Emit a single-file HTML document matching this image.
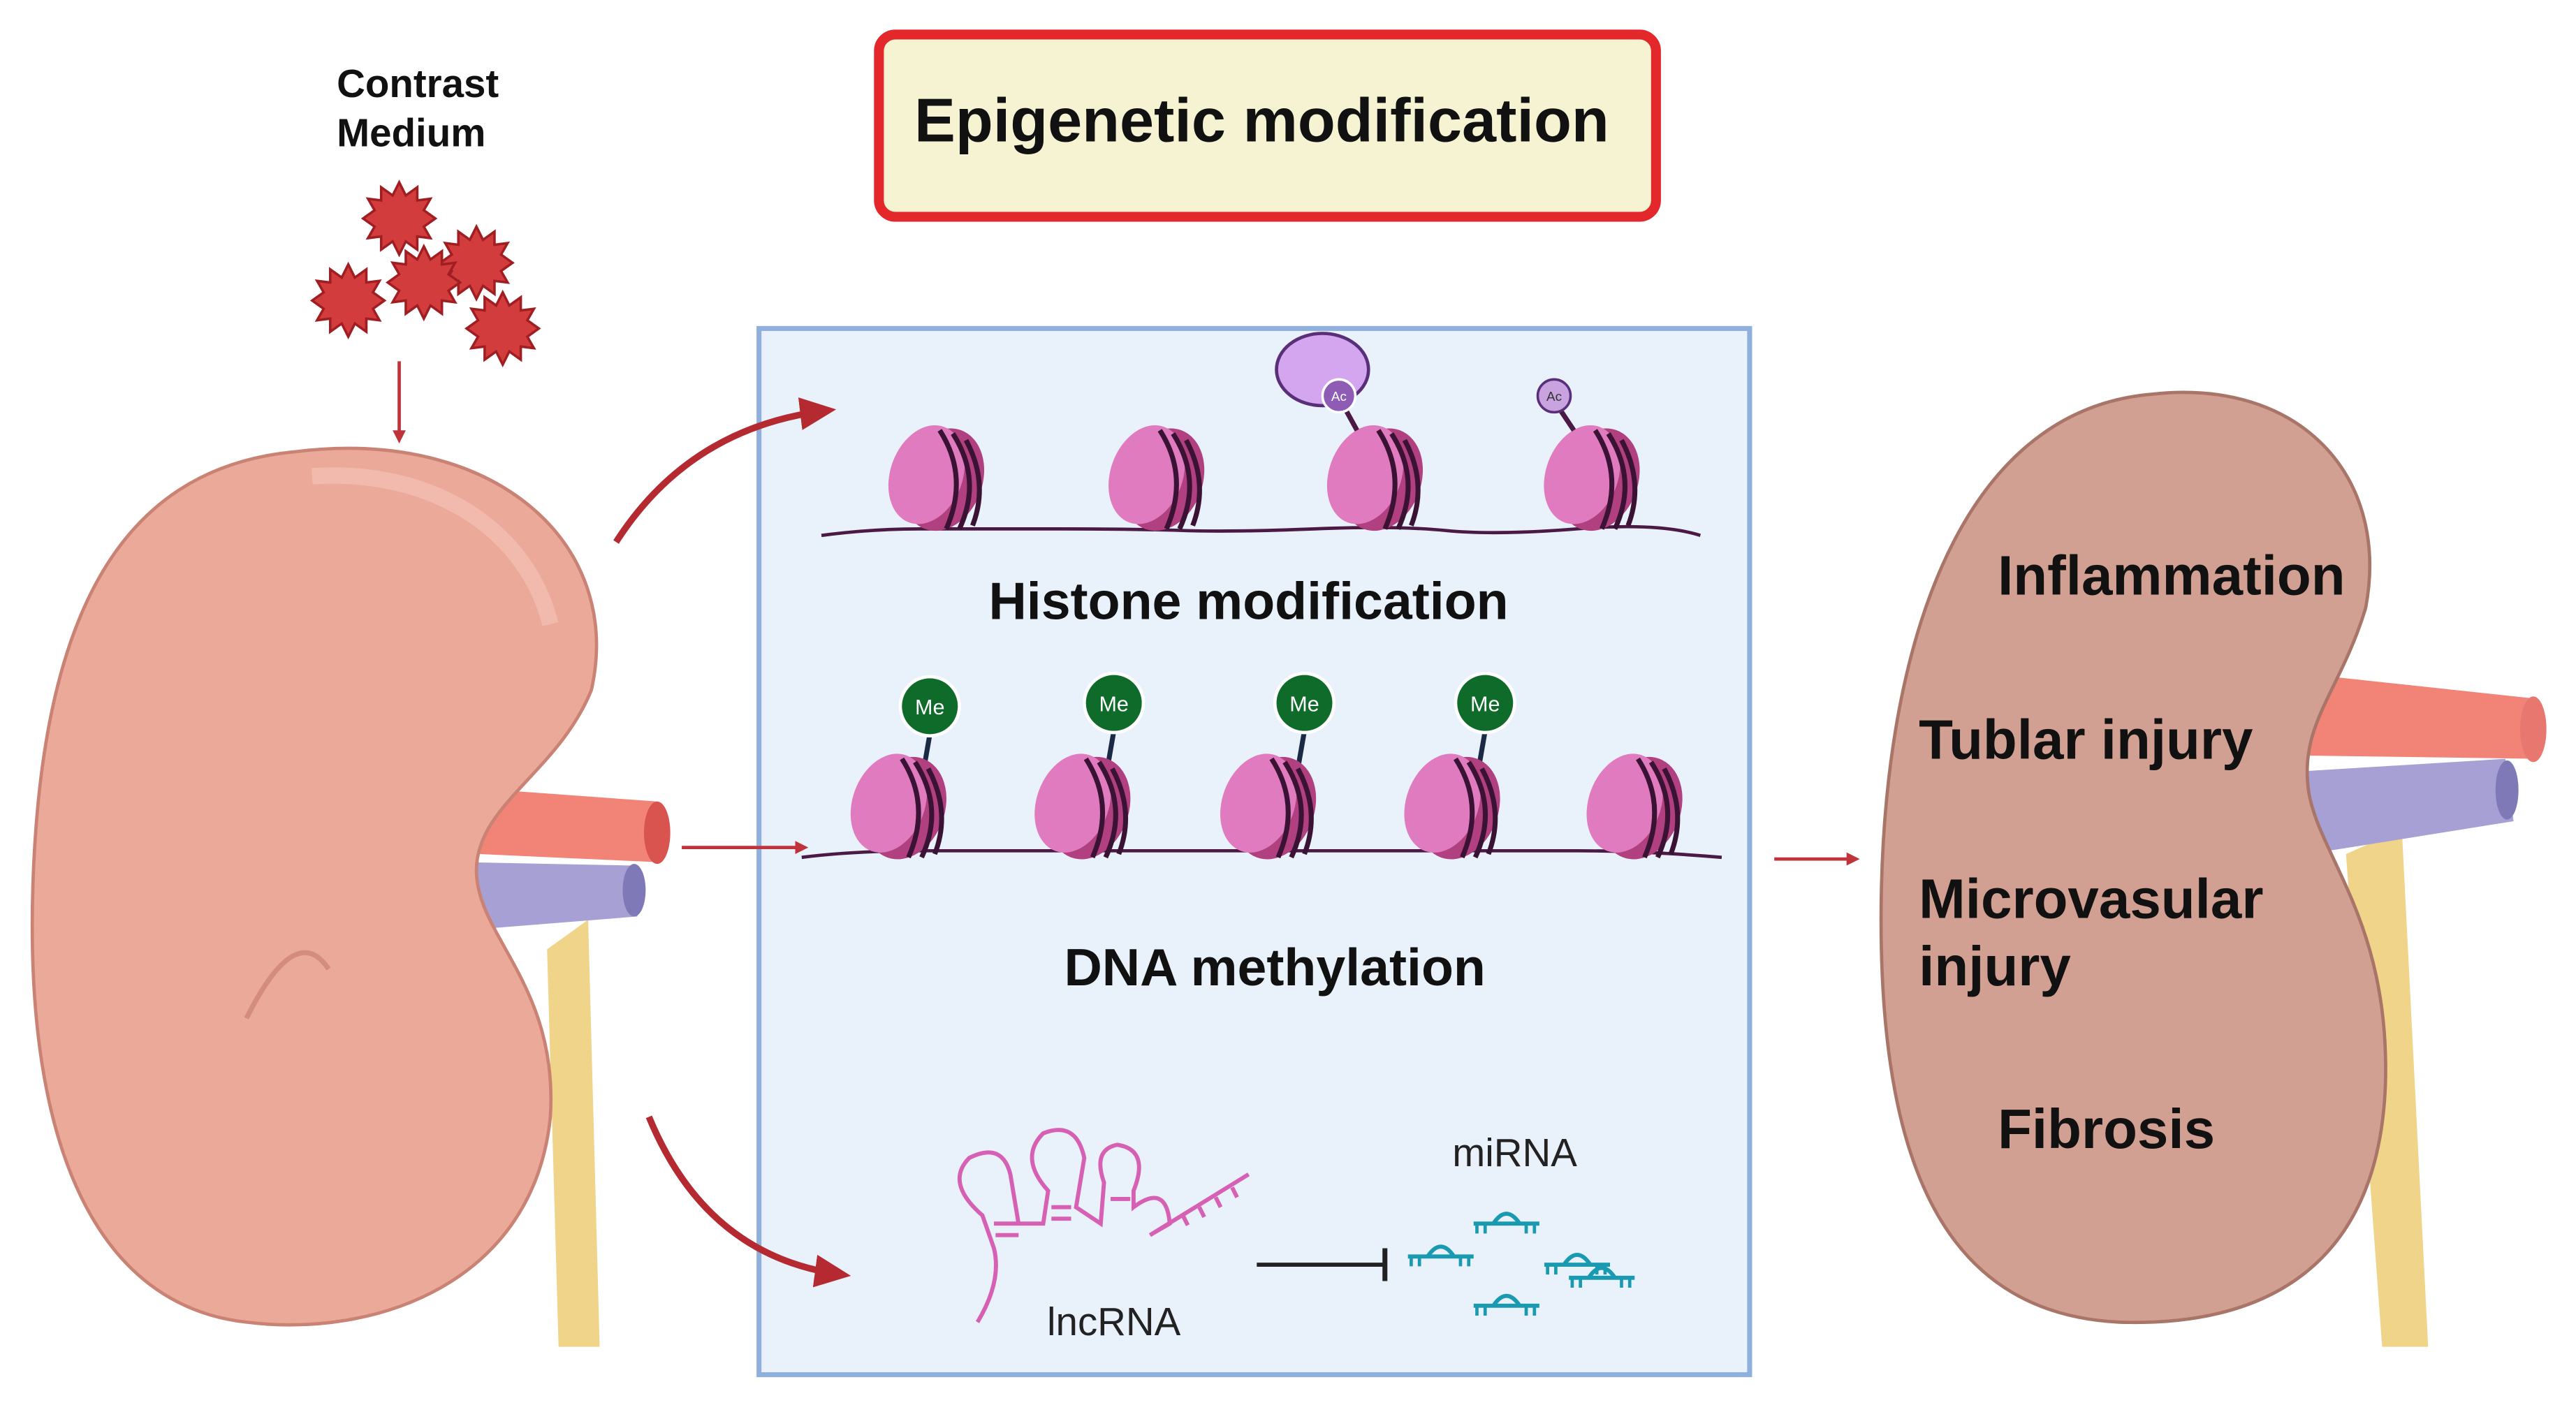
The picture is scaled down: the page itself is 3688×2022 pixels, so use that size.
<!DOCTYPE html>
<html><head><meta charset="utf-8"><style>
html,body{margin:0;padding:0;background:#fff;}
svg{display:block;}
text{font-family:"Liberation Sans",sans-serif;}
</style></head><body>
<svg width="3688" height="2022" viewBox="0 0 1568 859.7" preserveAspectRatio="none" xmlns="http://www.w3.org/2000/svg">
<defs>
<marker id="ah" markerWidth="8" markerHeight="8" refX="6" refY="4" orient="auto" markerUnits="userSpaceOnUse"><path d="M0,0 L8,4 L0,8 Z" fill="#c0333a"/></marker>
<marker id="ahb" markerWidth="22" markerHeight="20" refX="16" refY="10" orient="auto" markerUnits="userSpaceOnUse"><path d="M0,0 L22,10 L0,20 Z" fill="#b52a30"/></marker>
<g id="nuc">
<ellipse cx="6" cy="0" rx="24" ry="32" fill="#b0407f" transform="rotate(20 6 0)"/>
<ellipse cx="-4" cy="-3" rx="22" ry="31" fill="#e07bbf" transform="rotate(20 -4 -3)"/>
<path d="M4,-30 Q22,-2 8,30 M12,-28 Q30,0 16,30 M20,-24 Q34,2 24,28" stroke="#3a1234" stroke-width="3" fill="none"/>
</g>
<g id="mir">
<path d="M0,0 H40" stroke="#1a9ab0" stroke-width="2.5"/>
<path d="M12,0 Q20,-12 28,0" stroke="#1a9ab0" stroke-width="2.5" fill="none"/>
<path d="M2,0v6M7,0v6M32,0v6M37,0v6" stroke="#1a9ab0" stroke-width="2"/>
</g>
<g id="star">
<polygon points="0,-22 4,-14 11,-19 11,-11 19,-12 15,-5 22,0 15,5 19,12 11,11 11,19 4,14 0,22 -4,14 -11,19 -11,11 -19,12 -15,5 -22,0 -15,-5 -19,-12 -11,-11 -11,-19 -4,-14" fill="#d23c3c" stroke="#a01e22" stroke-width="1.5"/>
</g>
</defs>

<!-- title -->
<rect x="535" y="21" width="473" height="111" rx="10" fill="#f6f3d2" stroke="#e3272b" stroke-width="6"/>
<text x="768" y="86" font-size="37.5" font-weight="bold" text-anchor="middle" fill="#111">Epigenetic modification</text>

<!-- contrast medium -->
<text x="205" y="59" font-size="24" font-weight="bold" fill="#111">Contrast</text>
<text x="205" y="89" font-size="24" font-weight="bold" fill="#111">Medium</text>
<use href="#star" x="243" y="133"/>
<use href="#star" x="290" y="160"/>
<use href="#star" x="258" y="172"/>
<use href="#star" x="212" y="183"/>
<use href="#star" x="306" y="200"/>
<line x1="243" y1="220" x2="243" y2="268" stroke="#c0333a" stroke-width="2" marker-end="url(#ah)"/>

<!-- center box -->
<rect x="462" y="200" width="603" height="637" fill="#e9f1fb" stroke="#8fb0dc" stroke-width="3"/>

<!-- left kidney -->
<path d="M333,578 L340,820 L365,820 L358,560 Z" fill="#f0d48a"/>
<path d="M290,480 L400,488 L402,525 L292,520 Z" fill="#f28477"/>
<ellipse cx="400" cy="507" rx="8" ry="19" fill="#d9534f"/>
<path d="M285,525 L385,527 L388,558 L288,566 Z" fill="#a7a0d4"/>
<ellipse cx="386" cy="542" rx="7" ry="16" fill="#8079b8"/>
<path d="M180,275 C300,260 380,330 360,420 C340,470 290,490 290,530 C290,570 340,600 335,680 C325,780 230,815 150,805 C60,795 15,700 20,540 C25,380 70,285 180,275 Z" fill="#eaa999" stroke="#c98274" stroke-width="2"/>
<path d="M190,290 C260,285 320,320 335,380" stroke="#f4c2b5" stroke-width="10" fill="none" opacity="0.7"/>
<path d="M150,620 Q180,560 200,590" stroke="#d38c7e" stroke-width="3" fill="none"/>

<!-- arrows from kidney -->
<path d="M375,330 Q420,260 503,250" stroke="#b52a30" stroke-width="4" fill="none" marker-end="url(#ahb)"/>
<line x1="415" y1="516" x2="490" y2="516" stroke="#c0333a" stroke-width="2" marker-end="url(#ah)"/>
<path d="M395,680 Q430,765 512,776" stroke="#b52a30" stroke-width="4" fill="none" marker-end="url(#ahb)"/>
<line x1="1080" y1="523" x2="1130" y2="523" stroke="#c0333a" stroke-width="2" marker-end="url(#ah)"/>

<!-- histone row -->
<path d="M500,326 Q530,322 560,322 T640,322 T720,323 T800,322 T880,323 T960,322 T1035,326" stroke="#4a1a44" stroke-width="2" fill="none"/>
<use href="#nuc" x="568" y="292"/>
<use href="#nuc" x="702" y="292"/>
<use href="#nuc" x="835" y="292"/>
<use href="#nuc" x="967" y="292"/>
<line x1="815" y1="242" x2="826" y2="262" stroke="#4a1a44" stroke-width="3"/>
<ellipse cx="805" cy="225" rx="28" ry="22" fill="#d4a6ef" stroke="#5a2f7a" stroke-width="2"/>
<circle cx="815" cy="241" r="10" fill="#8e5bb5" stroke="#fff" stroke-width="1.5"/>
<text x="815" y="244" font-size="8" fill="#fff" text-anchor="middle">Ac</text>
<line x1="950" y1="250" x2="958" y2="262" stroke="#4a1a44" stroke-width="3"/>
<circle cx="946" cy="241" r="10" fill="#c9a3e0" stroke="#5a2f7a" stroke-width="1.5"/>
<text x="946" y="244" font-size="8" fill="#333" text-anchor="middle">Ac</text>
<text x="760" y="377" font-size="32" font-weight="bold" text-anchor="middle" fill="#111">Histone modification</text>

<!-- DNA row -->
<path d="M488,522 Q520,518 560,518 T640,518 T720,518 T800,518 T880,518 T960,518 T1048,522" stroke="#4a1a44" stroke-width="2" fill="none"/>
<g>
<line x1="566" y1="447" x2="562" y2="470" stroke="#1a2a44" stroke-width="3"/>
<line x1="678" y1="445" x2="674" y2="468" stroke="#1a2a44" stroke-width="3"/>
<line x1="794" y1="445" x2="790" y2="468" stroke="#1a2a44" stroke-width="3"/>
<line x1="904" y1="445" x2="900" y2="468" stroke="#1a2a44" stroke-width="3"/>
</g>
<use href="#nuc" x="545" y="492"/>
<use href="#nuc" x="657" y="492"/>
<use href="#nuc" x="770" y="492"/>
<use href="#nuc" x="882" y="492"/>
<use href="#nuc" x="993" y="492"/>
<g font-size="13" fill="#fff" text-anchor="middle">
<circle cx="566" cy="430" r="18" fill="#0f6b2a" stroke="#fff" stroke-width="2"/><text x="566" y="435">Me</text>
<circle cx="678" cy="428" r="18" fill="#0f6b2a" stroke="#fff" stroke-width="2"/><text x="678" y="433">Me</text>
<circle cx="794" cy="428" r="18" fill="#0f6b2a" stroke="#fff" stroke-width="2"/><text x="794" y="433">Me</text>
<circle cx="904" cy="428" r="18" fill="#0f6b2a" stroke="#fff" stroke-width="2"/><text x="904" y="433">Me</text>
</g>
<text x="776" y="600" font-size="32" font-weight="bold" text-anchor="middle" fill="#111">DNA methylation</text>

<!-- lncRNA -->
<g stroke="#d660b4" stroke-width="2.5" fill="none">
<path d="M595,805 Q610,780 605,760 L598,740 Q575,720 590,705 Q610,695 615,715 L620,745 L635,745 L638,725 Q620,705 635,690 Q655,682 660,705 L655,735 L670,745 L672,720 Q665,700 680,697 Q700,700 690,725 L690,735 Q710,720 712,745 L700,752 L760,715"/>
<path d="M605,745 h14 M606,752 h14 M640,735 h12 M640,742 h12 M676,730 h12 M720,740 l3,6 M730,735 l3,6 M740,729 l3,6 M750,723 l3,6"/>
</g>
<text x="678" y="813" font-size="24" text-anchor="middle" fill="#222">lncRNA</text>
<line x1="765" y1="770" x2="842" y2="770" stroke="#222" stroke-width="2.5"/>
<line x1="843" y1="760" x2="843" y2="780" stroke="#222" stroke-width="3"/>
<text x="922" y="710" font-size="24" text-anchor="middle" fill="#222">miRNA</text>
<use href="#mir" x="897" y="745"/>
<use href="#mir" x="857" y="765"/>
<use href="#mir" x="940" y="770"/>
<use href="#mir" x="897" y="795"/>
<use href="#mir" x="955" y="778"/>

<!-- right kidney -->
<path d="M1428,520 L1450,820 L1478,820 L1462,505 Z" fill="#f0d48a"/>
<path d="M1400,410 L1540,425 L1545,462 L1400,460 Z" fill="#f28477"/>
<ellipse cx="1542" cy="444" rx="8" ry="20" fill="#e7776f"/>
<path d="M1395,470 L1525,462 L1530,500 L1405,520 Z" fill="#a7a0d4"/>
<ellipse cx="1526" cy="481" rx="7" ry="18" fill="#8079b8"/>
<path d="M1310,240 C1400,230 1455,290 1440,370 C1425,420 1400,440 1405,480 C1410,520 1455,560 1452,660 C1448,770 1380,808 1290,805 C1190,800 1145,720 1145,560 C1145,400 1190,250 1310,240 Z" fill="#d2a093" stroke="#a97568" stroke-width="2"/>
<g font-size="34" font-weight="bold" fill="#111">
<text x="1216" y="362">Inflammation</text>
<text x="1168" y="462">Tublar injury</text>
<text x="1168" y="559">Microvasular</text>
<text x="1168" y="600">injury</text>
<text x="1216" y="699">Fibrosis</text>
</g>
</svg>
</body></html>
